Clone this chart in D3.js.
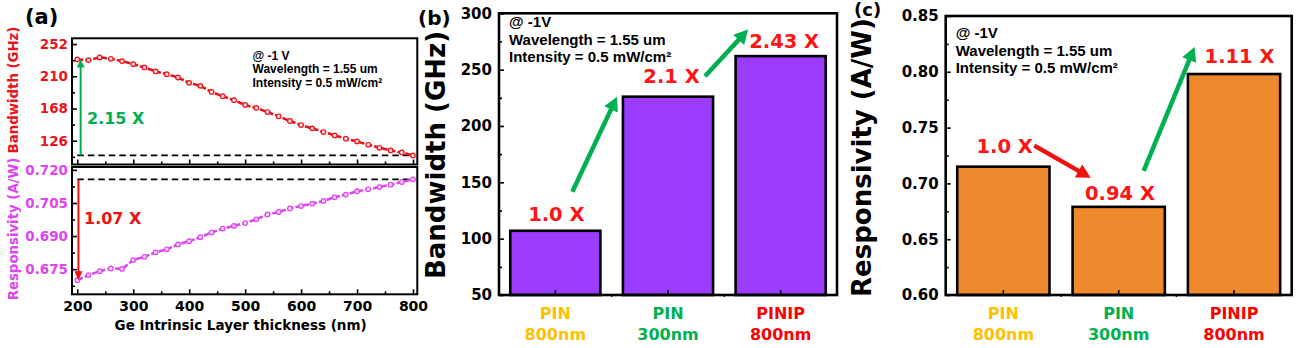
<!DOCTYPE html>
<html>
<head>
<meta charset="utf-8">
<script src="https://cdn.jsdelivr.net/npm/d3@7"></script>
<style>
  body { margin: 0; background: #fff; }
  svg { display: block; }
</style>
</head>
<body>
<svg id="fig" width="1299" height="348"></svg>
<script>
// ---------- data ----------
// (a) sweep of the Ge intrinsic layer thickness
const thicknessNm = [200, 220, 240, 260, 280, 300, 320, 340, 360, 380, 400, 420, 440, 460, 480, 500,
                     520, 540, 560, 580, 600, 620, 640, 660, 680, 700, 720, 740, 760, 780, 800];
const bandwidthGHz = [232.0, 231.1, 234.6, 232.8, 229.8, 225.8, 221.5, 216.3, 212.8, 208.4, 201.4,
                      197.5, 189.6, 184.0, 178.8, 172.6, 168.7, 163.4, 157.8, 151.7, 146.4, 142.1,
                      137.3, 132.9, 128.6, 125.1, 120.7, 116.8, 113.3, 110.7, 106.8];
const responsivityAW = [0.6700, 0.6723, 0.6741, 0.6753, 0.6751, 0.6791, 0.6806, 0.6826, 0.6840,
                        0.6862, 0.6877, 0.6895, 0.6916, 0.6934, 0.6946, 0.6959, 0.6976, 0.6998,
                        0.7009, 0.7025, 0.7036, 0.7047, 0.7059, 0.7076, 0.7088, 0.7103, 0.7112,
                        0.7122, 0.7133, 0.7145, 0.7157];
const sweepXTicks = [200, 300, 400, 500, 600, 700, 800];
const sweepBwTicks = [126, 168, 210, 252];
const sweepRespTicks = [0.675, 0.690, 0.705, 0.720];
const bwGain = "2.15 X";
const respGain = "1.07 X";

// (b), (c) device comparison
const deviceType = ["PIN", "PIN", "PINIP"];
const deviceThickness = ["800nm", "300nm", "800nm"];
const deviceColor = ["#FFC000", "#00B050", "#FF0000"];
const deviceBandwidth = [107, 226, 262];
const deviceResponsivity = [0.715, 0.679, 0.798];
const bandwidthRatio = ["1.0 X", "2.1 X", "2.43 X"];
const responsivityRatio = ["1.0 X", "0.94 X", "1.11 X"];
const bwTicks = [50, 100, 150, 200, 250, 300];
const respTicks = [0.60, 0.65, 0.70, 0.75, 0.80, 0.85];

const conditions = ["@ -1V", "Wavelength = 1.55 um", "Intensity = 0.5 mW/cm\u00B2"];
const conditionsA = ["@ -1 V", "Wavelength = 1.55 um", "Intensity = 0.5 mW/cm\u00B2"];

// ---------- style ----------
const HEAVY = "'DejaVu Sans', sans-serif";
const PLAIN = "'Liberation Sans', Arial, sans-serif";
const RED = "#E8141C";
const MAGENTA = "#DD45F0";
const GREEN = "#00B050";
const LABEL_RED = "#FF1414";
const PURPLE = "#9B3CFF";
const ORANGE = "#EF892D";

const svg = d3.select("#fig");

function frame(g, x0, y0, x1, y1, w) {
  g.append("rect").attr("x", x0).attr("y", y0)
    .attr("width", x1 - x0).attr("height", y1 - y0)
    .attr("fill", "none").attr("stroke", "#000").attr("stroke-width", w);
}

function arrow(g, x1, y1, x2, y2, color, w, hl, hw) {
  const a = Math.atan2(y2 - y1, x2 - x1);
  const c = Math.cos(a), s = Math.sin(a);
  const bx = x2 - hl * c, by = y2 - hl * s;
  g.append("line").attr("x1", x1).attr("y1", y1)
    .attr("x2", bx + 1 * c).attr("y2", by + 1 * s)
    .attr("stroke", color).attr("stroke-width", w);
  g.append("path")
    .attr("d", `M${x2},${y2}L${bx - s * hw / 2},${by + c * hw / 2}L${bx + s * hw / 2},${by - c * hw / 2}Z`)
    .attr("fill", color);
}

function styleAxis(sel, font, size, color) {
  sel.select(".domain").remove();
  sel.selectAll(".tick line").attr("stroke", "#000").attr("stroke-width", 1.6);
  sel.selectAll(".tick text").attr("font-family", font).attr("font-weight", "bold")
    .attr("font-size", size).attr("fill", color);
}

function textBlock(g, x, y, lines, size, dy) {
  lines.forEach((t, i) => {
    g.append("text").attr("x", x).attr("y", y + i * dy)
      .attr("font-family", PLAIN).attr("font-weight", "bold")
      .attr("font-size", size).attr("fill", "#000").text(t);
  });
}

// ---------- (a) ----------
{
  const g = svg.append("g");
  const L = 72, R = 417.3;
  const top1 = 38.3, bot1 = 164.5, top2 = 167, bot2 = 294.3;
  const x = d3.scaleLinear([190.5, 807.7], [L, R]);
  const yB = d3.scaleLinear([95, 259.5], [bot1, top1]);
  const yR = d3.scaleLinear([0.6636, 0.7213], [bot2, top2]);

  const minorX = d3.range(sweepXTicks[0] + 50, sweepXTicks[sweepXTicks.length - 1], 100);

  // top panel axes
  g.append("g").attr("transform", `translate(0,${bot1})`)
    .call(d3.axisBottom(x).tickValues(sweepXTicks).tickSize(-5).tickFormat(""))
    .call(s => styleAxis(s, HEAVY, 13, "#000"));
  g.append("g").attr("transform", `translate(0,${bot1})`)
    .call(d3.axisBottom(x).tickValues(minorX).tickSize(-3).tickFormat(""))
    .call(s => styleAxis(s, HEAVY, 13, "#000"));
  g.append("g").attr("transform", `translate(${L},0)`)
    .call(d3.axisLeft(yB).tickValues(sweepBwTicks).tickSize(-5).tickPadding(4).tickFormat(d3.format("d")))
    .call(s => styleAxis(s, HEAVY, 13.5, RED));
  g.append("g").attr("transform", `translate(${L},0)`)
    .call(d3.axisLeft(yB).tickValues(sweepBwTicks.map(v => v - 21).filter(v => v > 95)).tickSize(-3).tickFormat(""))
    .call(s => styleAxis(s, HEAVY, 13, "#000"));

  // bottom panel axes
  g.append("g").attr("transform", `translate(0,${bot2})`)
    .call(d3.axisBottom(x).tickValues(sweepXTicks).tickSize(-5).tickPadding(7).tickFormat(d3.format("d")))
    .call(s => styleAxis(s, HEAVY, 14, "#000"));
  g.append("g").attr("transform", `translate(0,${bot2})`)
    .call(d3.axisBottom(x).tickValues(minorX).tickSize(-3).tickFormat(""))
    .call(s => styleAxis(s, HEAVY, 13, "#000"));
  g.append("g").attr("transform", `translate(${L},0)`)
    .call(d3.axisLeft(yR).tickValues(sweepRespTicks).tickSize(-5).tickPadding(4).tickFormat(d3.format(".3f")))
    .call(s => styleAxis(s, HEAVY, 13.5, MAGENTA));
  g.append("g").attr("transform", `translate(${L},0)`)
    .call(d3.axisLeft(yR).tickValues(sweepRespTicks.map(v => v - 0.0075).filter(v => v > 0.6636)).tickSize(-3).tickFormat(""))
    .call(s => styleAxis(s, HEAVY, 13, "#000"));

  frame(g, L, top1, R, bot1, 2);
  frame(g, L, top2, R, bot2, 2);

  // reference levels at the 800 nm values
  const last = thicknessNm.length - 1;
  g.append("line").attr("x1", x(200)).attr("x2", x(800))
    .attr("y1", yB(bandwidthGHz[last])).attr("y2", yB(bandwidthGHz[last]))
    .attr("stroke", "#000").attr("stroke-width", 1.7).attr("stroke-dasharray", "6.5,4");
  g.append("line").attr("x1", x(200)).attr("x2", x(800))
    .attr("y1", yR(responsivityAW[last])).attr("y2", yR(responsivityAW[last]))
    .attr("stroke", "#000").attr("stroke-width", 1.7).attr("stroke-dasharray", "6.5,4");

  // curves
  const pts = thicknessNm.map((t, i) => ({ t, b: bandwidthGHz[i], r: responsivityAW[i] }));
  g.append("path").datum(pts)
    .attr("d", d3.line().x(d => x(d.t)).y(d => yB(d.b)))
    .attr("fill", "none").attr("stroke", RED).attr("stroke-width", 2.6).attr("stroke-dasharray", "6,2");
  g.selectAll(".mb").data(pts).join("circle")
    .attr("cx", d => x(d.t)).attr("cy", d => yB(d.b)).attr("r", 2.3)
    .attr("fill", "#FFD6D6").attr("stroke", RED).attr("stroke-width", 1.2);
  g.append("path").datum(pts)
    .attr("d", d3.line().x(d => x(d.t)).y(d => yR(d.r)))
    .attr("fill", "none").attr("stroke", MAGENTA).attr("stroke-width", 2.6).attr("stroke-dasharray", "6,2");
  g.selectAll(".mr").data(pts).join("circle")
    .attr("cx", d => x(d.t)).attr("cy", d => yR(d.r)).attr("r", 2.3)
    .attr("fill", "#F8D8FF").attr("stroke", MAGENTA).attr("stroke-width", 1.2);

  // gain arrows
  arrow(g, x(206), yB(bandwidthGHz[last]), x(206), yB(bandwidthGHz[0]), GREEN, 2, 8, 8);
  arrow(g, x(202), yR(responsivityAW[last]), x(202), yR(responsivityAW[0]), "#F01010", 2, 9, 8);
  g.append("text").attr("x", 87).attr("y", 124)
    .attr("font-family", HEAVY).attr("font-weight", "bold").attr("font-size", 16)
    .attr("fill", GREEN).text(bwGain);
  g.append("text").attr("x", 84).attr("y", 223.5)
    .attr("font-family", HEAVY).attr("font-weight", "bold").attr("font-size", 16)
    .attr("fill", "#F01010").text(respGain);

  textBlock(g, 252.5, 60, conditionsA, 12, 13.3);

  // titles
  g.append("text").attr("transform", `translate(18,90) rotate(-90)`)
    .attr("text-anchor", "middle")
    .attr("font-family", HEAVY).attr("font-weight", "bold").attr("font-size", 13.3)
    .attr("fill", RED).text("Bandwidth (GHz)");
  g.append("text").attr("transform", `translate(18,229) rotate(-90)`)
    .attr("text-anchor", "middle")
    .attr("font-family", HEAVY).attr("font-weight", "bold").attr("font-size", 13.3)
    .attr("fill", MAGENTA).text("Responsivity (A/W)");
  g.append("text").attr("x", (L + R) / 2 - 4).attr("y", 330)
    .attr("text-anchor", "middle")
    .attr("font-family", HEAVY).attr("font-weight", "bold").attr("font-size", 13.5)
    .attr("fill", "#000").text("Ge Intrinsic Layer thickness (nm)");
  g.append("text").attr("x", 25).attr("y", 24)
    .attr("font-family", HEAVY).attr("font-weight", "bold").attr("font-size", 21)
    .attr("fill", "#000").text("(a)");
}

// ---------- bar panels ----------
function barPanel(opts) {
  const g = svg.append("g");
  const { L, R, T, B, domain, ticks, values, ratios, fill, fmt, title, titleX, titleY, tag, tagX, tagY,
          tagSize, ratioOffsets, condY } = opts;
  const x = d3.scaleBand().domain(d3.range(values.length)).range([L, R]).paddingInner(0.2).paddingOuter(0.1);
  const y = d3.scaleLinear(domain, [B, T]);

  const step = x.step();
  const minorY = ticks.slice(0, -1).map((v, i) => (v + ticks[i + 1]) / 2);

  g.append("g").attr("transform", `translate(${L},0)`)
    .call(d3.axisLeft(y).tickValues(ticks).tickSize(-5).tickPadding(7).tickFormat(fmt))
    .call(s => styleAxis(s, HEAVY, 15, "#000"));
  g.append("g").attr("transform", `translate(${L},0)`)
    .call(d3.axisLeft(y).tickValues(minorY).tickSize(-3).tickFormat(""))
    .call(s => styleAxis(s, HEAVY, 15, "#000"));

  // bars
  g.selectAll(".bar").data(values).join("rect")
    .attr("x", (d, i) => x(i)).attr("width", x.bandwidth())
    .attr("y", d => y(d)).attr("height", d => B - y(d))
    .attr("fill", fill).attr("stroke", "#000").attr("stroke-width", 2.6);

  // category ticks
  values.forEach((d, i) => {
    const cx = x(i) + x.bandwidth() / 2;
    g.append("line").attr("x1", cx).attr("x2", cx).attr("y1", B).attr("y2", B - 5)
      .attr("stroke", "#000").attr("stroke-width", 1.6);
    if (i > 0) {
      const bx = cx - step / 2;
      g.append("line").attr("x1", bx).attr("x2", bx).attr("y1", B).attr("y2", B + 2)
        .attr("stroke", "#000").attr("stroke-width", 1.4);
    }
  });

  frame(g, L, T, R, B, 2.6);

  // category labels
  values.forEach((d, i) => {
    const cx = x(i) + x.bandwidth() / 2;
    g.append("text").attr("x", cx).attr("y", 319).attr("text-anchor", "middle")
      .attr("font-family", HEAVY).attr("font-weight", "bold").attr("font-size", 16)
      .attr("fill", deviceColor[i]).text(deviceType[i]);
    g.append("text").attr("x", cx).attr("y", 340).attr("text-anchor", "middle")
      .attr("font-family", HEAVY).attr("font-weight", "bold").attr("font-size", 16)
      .attr("fill", deviceColor[i]).text(deviceThickness[i]);
  });

  // ratio labels
  const lab = values.map((d, i) => ({
    cx: x(i) + x.bandwidth() / 2 + ratioOffsets[i][0],
    by: y(d) - ratioOffsets[i][1]
  }));
  ratios.forEach((t, i) => {
    g.append("text").attr("x", lab[i].cx).attr("y", lab[i].by).attr("text-anchor", "middle")
      .attr("font-family", HEAVY).attr("font-weight", "bold").attr("font-size", 19.5)
      .attr("fill", LABEL_RED).text(t);
  });

  textBlock(g, L + 10, condY, conditions, 15, 17.5);

  g.append("text").attr("transform", `translate(${titleX},${titleY}) rotate(-90)`)
    .attr("text-anchor", "middle")
    .attr("font-family", HEAVY).attr("font-weight", "bold").attr("font-size", 26)
    .attr("fill", "#000").text(title);
  g.append("text").attr("x", tagX).attr("y", tagY)
    .attr("font-family", HEAVY).attr("font-weight", "bold").attr("font-size", tagSize)
    .attr("fill", "#000").text(tag);

  return { g, x, y, lab };
}

// (b) bandwidth
{
  const p = barPanel({
    L: 499, R: 837, T: 13.3, B: 295, domain: [50, 300], ticks: bwTicks,
    values: deviceBandwidth, ratios: bandwidthRatio, fill: PURPLE, fmt: d3.format("d"),
    title: "Bandwidth (GHz)", titleX: 445, titleY: 155, tag: "(b)", tagX: 418, tagY: 25, tagSize: 20,
    ratioOffsets: [[1, 10], [3.5, 13.4], [3.5, 8.4]], condY: 27.3
  });
  const { g, x, y } = p;
  const c = i => x(i) + x.bandwidth() / 2;
  // growth arrows between the bars
  arrow(g, c(0) + 17, y(deviceBandwidth[0]) - 39, c(1) - 51, y(deviceBandwidth[1]), GREEN, 4.5, 14, 15);
  arrow(g, c(1) + 37, y(deviceBandwidth[1]) - 20.5, c(2) - 32.5, y(deviceBandwidth[2]) - 26.5, GREEN, 4.5, 14, 15);
}

// (c) responsivity
{
  const p = barPanel({
    L: 945.7, R: 1291.7, T: 16, B: 295, domain: [0.60, 0.85], ticks: respTicks,
    values: deviceResponsivity, ratios: responsivityRatio, fill: ORANGE, fmt: d3.format(".2f"),
    title: "Responsivity (A/W)", titleX: 871, titleY: 157.5, tag: "(c)", tagX: 854, tagY: 16, tagSize: 18,
    ratioOffsets: [[1.3, 13.4], [1.3, 6.6], [5.5, 11.3]], condY: 38.3
  });
  const { g, x, y } = p;
  const c = i => x(i) + x.bandwidth() / 2;
  arrow(g, c(0) + 31, y(deviceResponsivity[0]) - 21, c(1) - 28, y(deviceResponsivity[1]) - 29, "#F01010", 4.5, 14, 15);
  arrow(g, c(1) + 25, y(deviceResponsivity[1]) - 36, c(2) - 39.5, y(deviceResponsivity[2]) - 27, GREEN, 4.5, 14, 15);
}
</script>
</body>
</html>
